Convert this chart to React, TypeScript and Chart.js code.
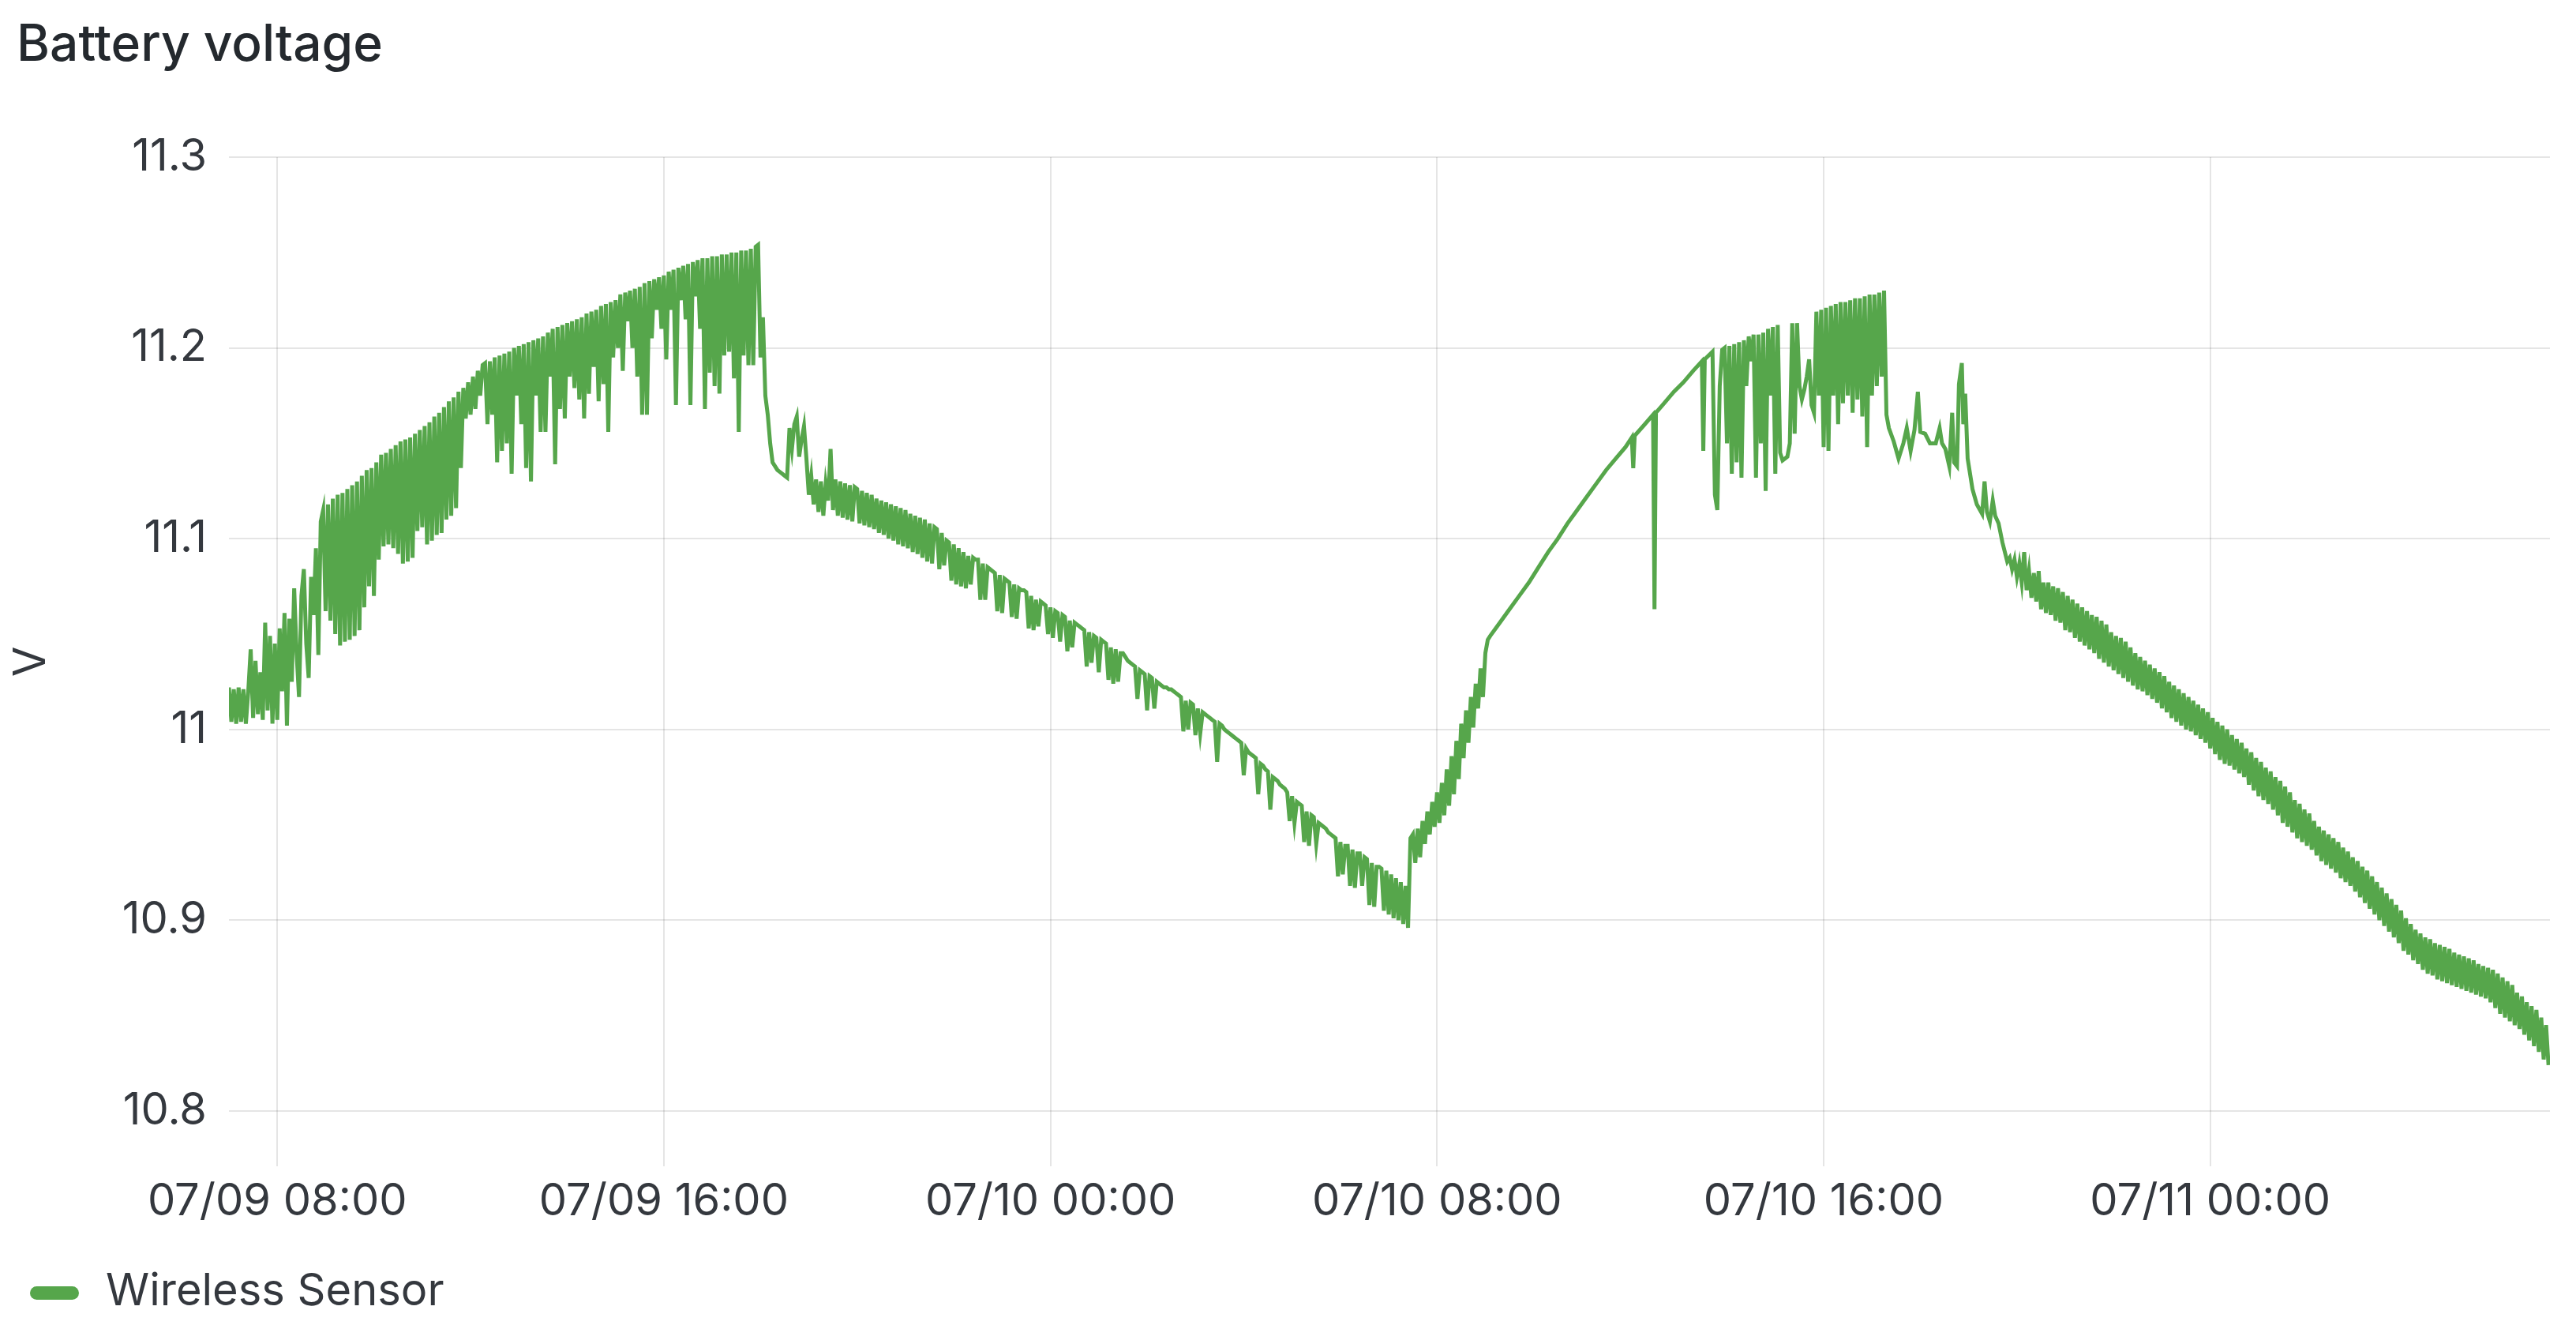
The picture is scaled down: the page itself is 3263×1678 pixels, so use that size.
import React, { useEffect, useRef } from "react";
import { Chart, LineController, LineElement, PointElement, LinearScale } from "chart.js";

Chart.register(LineController, LineElement, PointElement, LinearScale);

// x values are hours counted from 07/09 00:00
const X_MIN_H = 7.0;
const X_MAX_H = 55.03;
const Y_MIN = 10.771;
const Y_MAX = 11.3;

const xTickHours = [8, 16, 24, 32, 40, 48];
const xTickLabels = ["07/09 08:00", "07/09 16:00", "07/10 00:00", "07/10 08:00", "07/10 16:00", "07/11 00:00"];
const yTickValues = [10.8, 10.9, 11.0, 11.1, 11.2, 11.3];
const yTickLabels = ["10.8", "10.9", "11", "11.1", "11.2", "11.3"];

const panelTitle = "Battery voltage";
const unitLabel = "V";
const seriesName = "Wireless Sensor";

// regular readings: first hour + sampling step (h) + volts
const dawnVolts = [
  11.022, 11.004, 11.021, 11.003, 11.022, 11.004, 11.021, 11.003, 11.020, 11.042,
  11.006, 11.036, 11.008, 11.030, 11.005, 11.056, 11.010, 11.049, 11.003, 11.045,
  11.005, 11.053, 11.020, 11.061, 11.002, 11.058, 11.025, 11.074, 11.040, 11.017,
  11.070, 11.084, 11.045, 11.027, 11.080, 11.060, 11.095, 11.039, 11.109,
];

const morningVolts = [
  11.115, 11.062, 11.118, 11.057, 11.121, 11.050, 11.123, 11.044, 11.124, 11.046,
  11.126, 11.047, 11.128, 11.049, 11.130, 11.052, 11.133, 11.064, 11.136, 11.075,
  11.137, 11.070, 11.140, 11.089, 11.144, 11.096, 11.145, 11.097, 11.147, 11.095,
  11.149, 11.092, 11.151, 11.087, 11.152, 11.088, 11.153, 11.090, 11.155, 11.104,
  11.157, 11.106, 11.159, 11.097, 11.161, 11.099, 11.164, 11.102, 11.166, 11.103,
  11.169, 11.110, 11.172, 11.112, 11.174, 11.116, 11.177, 11.137, 11.179, 11.163,
  11.182, 11.165, 11.185, 11.168, 11.188, 11.175, 11.191,
];

const afternoonVolts = [
  11.192, 11.160, 11.193, 11.165, 11.195, 11.140, 11.196, 11.146, 11.197, 11.150,
  11.198, 11.134, 11.200, 11.175, 11.201, 11.160, 11.202, 11.137, 11.203, 11.130,
  11.204, 11.175, 11.205, 11.156, 11.206, 11.156, 11.208, 11.185, 11.210, 11.139,
  11.211, 11.168, 11.212, 11.163, 11.213, 11.185, 11.214, 11.179, 11.215, 11.173,
  11.216, 11.163, 11.218, 11.176, 11.219, 11.190, 11.220, 11.172, 11.222, 11.181,
  11.223, 11.156, 11.224, 11.195, 11.225, 11.200, 11.228, 11.188, 11.229, 11.214,
  11.230, 11.200, 11.231, 11.185, 11.232, 11.165, 11.234, 11.165, 11.235, 11.205,
  11.236, 11.220, 11.237, 11.210, 11.238, 11.194, 11.240, 11.220, 11.241, 11.170,
  11.242, 11.225, 11.243, 11.215, 11.244, 11.170, 11.245, 11.227, 11.246, 11.210,
  11.247, 11.168, 11.247, 11.187, 11.248, 11.180, 11.248, 11.176, 11.249, 11.196,
  11.249, 11.198, 11.250, 11.184, 11.250, 11.156, 11.251, 11.196, 11.251, 11.191,
  11.252, 11.191, 11.253, 11.254,
];

const duskVolts = [
  11.195, 11.216, 11.175, 11.165, 11.150, 11.140, 11.138, 11.136, 11.135, 11.134,
  11.133, 11.132, 11.158, 11.147, 11.160, 11.164, 11.143, 11.152, 11.159, 11.142,
  11.123, 11.133, 11.118, 11.131, 11.114, 11.130, 11.112, 11.129, 11.120, 11.147,
  11.115, 11.131, 11.112, 11.130, 11.111, 11.129, 11.110, 11.128, 11.109, 11.127,
];

const eveningBandVolts = [
  11.126, 11.108, 11.125, 11.107, 11.124, 11.106, 11.123, 11.105, 11.121, 11.103,
  11.120, 11.102, 11.119, 11.100, 11.118, 11.099, 11.117, 11.097, 11.116, 11.096,
  11.115, 11.095, 11.113, 11.093, 11.112, 11.092, 11.111, 11.090, 11.110, 11.088,
  11.108, 11.087, 11.106,
];

const nightVolts = [
  11.105, 11.084, 11.103, 11.086, 11.099, 11.098, 11.078, 11.097, 11.076, 11.095,
  11.075, 11.093, 11.074, 11.091, 11.076, 11.090, 11.089, 11.089, 11.068, 11.087,
  11.068, 11.085, 11.084, 11.083, 11.082, 11.062, 11.081, 11.061, 11.079, 11.078,
  11.077, 11.059, 11.076, 11.058, 11.074, 11.073, 11.073, 11.072, 11.053, 11.070,
  11.052, 11.068, 11.054, 11.067, 11.066, 11.065, 11.050, 11.064, 11.048, 11.062,
  11.061, 11.046, 11.060, 11.059, 11.041, 11.057, 11.043, 11.056, 11.055, 11.054,
  11.053, 11.052, 11.033, 11.051, 11.035, 11.049, 11.048, 11.030, 11.047, 11.046,
  11.045, 11.026, 11.043, 11.024, 11.042, 11.025, 11.040, 11.040, 11.038, 11.036,
  11.035, 11.034, 11.033, 11.016, 11.031, 11.030, 11.029, 11.010, 11.028, 11.027,
  11.011, 11.025, 11.024, 11.023, 11.022, 11.022, 11.021, 11.021, 11.020, 11.019,
  11.018, 11.017, 10.999, 11.015, 11.000, 11.014, 11.013, 10.997, 11.011, 10.998,
  11.009, 11.008, 11.007, 11.006, 11.005, 11.004, 10.983, 11.003, 11.002, 11.000,
  10.999, 10.998, 10.997, 10.996, 10.995, 10.994, 10.993, 10.976, 10.990, 10.988,
  10.987, 10.986, 10.985, 10.966, 10.982, 10.981, 10.979, 10.978, 10.958, 10.975,
  10.974, 10.973, 10.971, 10.970, 10.969, 10.967, 10.952, 10.965, 10.951, 10.962,
  10.961, 10.960, 10.941, 10.957, 10.939, 10.955, 10.954, 10.940, 10.951, 10.950,
  10.949, 10.948, 10.946, 10.945, 10.944, 10.943, 10.923, 10.941, 10.924, 10.939,
  10.939, 10.918, 10.937, 10.917, 10.935, 10.935, 10.918, 10.933, 10.932, 10.908,
  10.930, 10.907, 10.928, 10.928,
];

const lowPointVolts = [
  10.927, 10.905, 10.926, 10.903, 10.924, 10.901, 10.922, 10.900, 10.920, 10.898,
  10.918, 10.896,
];

const chargeStartVolts = [
  10.943, 10.945, 10.930, 10.948, 10.933, 10.952, 10.940, 10.957, 10.945, 10.962,
  10.949, 10.967, 10.951, 10.972, 10.955, 10.979, 10.960, 10.986, 10.966, 10.994,
  10.974, 11.003, 10.985, 11.010, 10.993, 11.017, 11.001, 11.024, 11.011, 11.032,
  11.017, 11.040, 11.047,
];

// hour, volts
const chargeClimb = [
  [33.1, 11.049], [33.3, 11.056], [33.5, 11.063], [33.7, 11.07], [33.9, 11.077],
  [34.1, 11.085], [34.3, 11.093], [34.5, 11.1], [34.7, 11.108], [34.9, 11.115],
  [35.1, 11.122], [35.3, 11.129], [35.5, 11.136], [35.7, 11.142], [35.9, 11.148],
  [36.03, 11.153], [36.06, 11.137], [36.09, 11.154], [36.3, 11.16], [36.47, 11.165],
  [36.5, 11.063], [36.53, 11.166], [36.7, 11.171], [36.9, 11.177], [37.1, 11.182],
  [37.3, 11.188], [37.48, 11.193], [37.51, 11.146], [37.54, 11.194], [37.7, 11.198],
];

const plateauVolts = [
  11.123, 11.115, 11.180, 11.199, 11.200, 11.150, 11.201, 11.134, 11.202, 11.140,
  11.203, 11.132, 11.204, 11.180, 11.206, 11.193, 11.207, 11.132, 11.207, 11.150,
  11.208, 11.125, 11.210, 11.175, 11.211, 11.134, 11.212, 11.145, 11.141, 11.142,
  11.143, 11.150, 11.213, 11.155, 11.213, 11.180, 11.173, 11.178, 11.185, 11.194,
  11.170, 11.166, 11.219, 11.175, 11.220, 11.148, 11.221, 11.146, 11.222, 11.175,
  11.223, 11.160, 11.224, 11.171, 11.224, 11.175, 11.225, 11.166, 11.226, 11.173,
  11.226, 11.164, 11.227, 11.148, 11.228, 11.175, 11.228, 11.180, 11.229, 11.185,
  11.230,
];

const eveningBumps = [
  [41.3, 11.165], [41.35, 11.158], [41.45, 11.151], [41.55, 11.142], [41.65, 11.15],
  [41.72, 11.158], [41.8, 11.146], [41.88, 11.157], [41.95, 11.177], [42.0, 11.156],
  [42.1, 11.155], [42.2, 11.15], [42.32, 11.15], [42.4, 11.158], [42.45, 11.15],
  [42.52, 11.147], [42.6, 11.138], [42.66, 11.166], [42.7, 11.14], [42.76, 11.138],
  [42.8, 11.181], [42.86, 11.192], [42.89, 11.16], [42.93, 11.176], [42.98, 11.142],
  [43.08, 11.126], [43.17, 11.118], [43.28, 11.113], [43.33, 11.13], [43.38, 11.114],
  [43.44, 11.109], [43.5, 11.12], [43.55, 11.112], [43.62, 11.108], [43.7, 11.098],
  [43.8, 11.088],
];

const drainVolts = [
  11.090, 11.084, 11.089, 11.080, 11.087, 11.077, 11.093, 11.073, 11.083, 11.069,
  11.082, 11.067, 11.083, 11.063, 11.077, 11.061, 11.077, 11.060, 11.075, 11.057,
  11.074, 11.056, 11.072, 11.052, 11.070, 11.051, 11.068, 11.048, 11.066, 11.046,
  11.064, 11.044, 11.062, 11.042, 11.060, 11.040, 11.059, 11.037, 11.057, 11.035,
  11.055, 11.033, 11.051, 11.031, 11.049, 11.029, 11.048, 11.027, 11.046, 11.025,
  11.043, 11.023, 11.040, 11.021, 11.038, 11.020, 11.036, 11.018, 11.034, 11.016,
  11.032, 11.014, 11.030, 11.011, 11.028, 11.009, 11.025, 11.006, 11.023, 11.004,
  11.021, 11.002, 11.019, 11.000, 11.017, 10.999, 11.015, 10.997, 11.013, 10.995,
  11.011, 10.993, 11.009, 10.990, 11.006, 10.987, 11.004, 10.984, 11.002, 10.982,
  11.000, 10.981, 10.997, 10.979, 10.995, 10.977, 10.993, 10.975, 10.990, 10.971,
  10.988, 10.968, 10.985, 10.965, 10.983, 10.963, 10.980, 10.961, 10.978, 10.958,
  10.975, 10.955, 10.973, 10.951, 10.970, 10.949, 10.967, 10.946, 10.963, 10.943,
  10.961, 10.941, 10.958, 10.939, 10.956, 10.937, 10.952, 10.934, 10.949, 10.931,
  10.947, 10.929, 10.945, 10.927, 10.943, 10.925, 10.941, 10.922, 10.938, 10.920,
  10.936, 10.918, 10.933, 10.915, 10.931, 10.912, 10.928, 10.909, 10.926, 10.906,
  10.923, 10.903, 10.920, 10.900, 10.917, 10.897, 10.914, 10.894, 10.911, 10.891,
  10.908, 10.888, 10.905, 10.884, 10.901, 10.882, 10.898, 10.879, 10.895, 10.877,
  10.893, 10.874, 10.891, 10.872, 10.890, 10.871, 10.888, 10.869, 10.887, 10.868,
  10.886, 10.867, 10.885, 10.866, 10.883, 10.865, 10.882, 10.864, 10.881, 10.863,
  10.880, 10.862, 10.879, 10.861, 10.877, 10.860, 10.876, 10.859, 10.875, 10.857,
  10.874, 10.854, 10.872, 10.851, 10.870, 10.849, 10.868, 10.847, 10.866, 10.845,
  10.862, 10.843, 10.860, 10.840, 10.857, 10.837, 10.855, 10.834, 10.853, 10.831,
  10.849, 10.827, 10.845, 10.824,
];

type Piece = { start: number; step: number; volts: number[] } | { pairs: number[][] };

const pieces: Piece[] = [
  { start: 7.0, step: 0.05, volts: dawnVolts },
  { start: 8.95, step: 0.05, volts: morningVolts },
  { start: 12.3, step: 0.05, volts: afternoonVolts },
  { start: 18.0, step: 0.05, volts: duskVolts },
  { start: 20.0, step: 0.05, volts: eveningBandVolts },
  { start: 21.65, step: 0.05, volts: nightVolts },
  { start: 30.85, step: 0.05, volts: lowPointVolts },
  { start: 31.45, step: 0.05, volts: chargeStartVolts },
  { pairs: chargeClimb },
  { start: 37.75, step: 0.05, volts: plateauVolts },
  { pairs: eveningBumps },
  { start: 43.85, step: 0.05, volts: drainVolts },
];

function buildPoints(): { x: number; y: number }[] {
  const pts: { x: number; y: number }[] = [];
  for (const p of pieces) {
    if ("pairs" in p) {
      for (const [h, v] of p.pairs) pts.push({ x: h, y: v });
    } else {
      p.volts.forEach((v, i) => pts.push({ x: p.start + i * p.step, y: v }));
    }
  }
  return pts;
}

const GREEN = "#56A64B";
const TEXT = "#34383e";
const GRID = "rgba(0, 0, 0, 0.1)";
const FONT = "Inter, 'Noto Sans', sans-serif";

const W = 3263;
const H = 1678;

function VoltageChart(): React.ReactElement {
  const canvasRef = useRef<HTMLCanvasElement | null>(null);

  useEffect(() => {
    const ctx = canvasRef.current?.getContext("2d");
    if (!ctx) return;
    const tickFont = { family: FONT, size: 56 };

    const chart = new Chart(ctx, {
      type: "line",
      data: {
        datasets: [
          {
            label: seriesName,
            data: buildPoints(),
            borderColor: GREEN,
            backgroundColor: GREEN,
            borderWidth: 5,
            pointRadius: 0,
            tension: 0,
            fill: false,
          },
        ],
      },
      options: {
        responsive: false,
        animation: false,
        devicePixelRatio: 1,
        parsing: false,
        normalized: true,
        layout: { padding: { left: 0, top: 199, right: 33, bottom: 91 } },
        plugins: {
          legend: { display: false },
          tooltip: { enabled: false },
          title: { display: false },
        },
        scales: {
          x: {
            type: "linear",
            min: X_MIN_H,
            max: X_MAX_H,
            border: { display: false },
            grid: { color: GRID, lineWidth: 2, drawTicks: false },
            ticks: {
              padding: 12,
              autoSkip: false,
              maxRotation: 0,
              color: TEXT,
              font: tickFont,
              callback: (_v, i) => xTickLabels[i],
            },
            afterBuildTicks: (s) => {
              s.ticks = xTickHours.map((value) => ({ value }));
            },
            afterFit: (s) => {
              s.height = 110;
            },
          },
          y: {
            type: "linear",
            min: Y_MIN,
            max: Y_MAX,
            border: { display: false },
            grid: { color: GRID, lineWidth: 2, drawTicks: false },
            title: {
              display: true,
              text: unitLabel,
              color: TEXT,
              font: tickFont,
              padding: { top: 7, bottom: 0 },
            },
            ticks: {
              padding: 28,
              autoSkip: false,
              color: TEXT,
              font: tickFont,
              callback: (_v, i) => yTickLabels[i],
            },
            afterBuildTicks: (s) => {
              s.ticks = yTickValues.map((value) => ({ value }));
            },
            afterFit: (s) => {
              s.width = 290;
            },
          },
        },
      },
    });

    return () => {
      chart.destroy();
    };
  }, []);

  return <canvas ref={canvasRef} width={W} height={H} style={{ display: "block", width: W, height: H }} />;
}

export default function App(): React.ReactElement {
  return (
    <div style={{ position: "absolute", left: 0, top: 0, width: W, height: H, background: "#fff", overflow: "hidden", fontFamily: FONT }}>
      <VoltageChart />
      <div
        style={{
          position: "absolute",
          left: 21,
          top: 22,
          fontSize: 64,
          lineHeight: "64px",
          fontWeight: 500,
          color: "#24292e",
          whiteSpace: "nowrap",
        }}
      >
        {panelTitle}
      </div>
      <div style={{ position: "absolute", left: 38, top: 1629, width: 62, height: 17, borderRadius: 9, background: GREEN }} />
      <div
        style={{
          position: "absolute",
          left: 134,
          top: 1605,
          fontSize: 56,
          lineHeight: "56px",
          color: TEXT,
          whiteSpace: "nowrap",
        }}
      >
        {seriesName}
      </div>
    </div>
  );
}
